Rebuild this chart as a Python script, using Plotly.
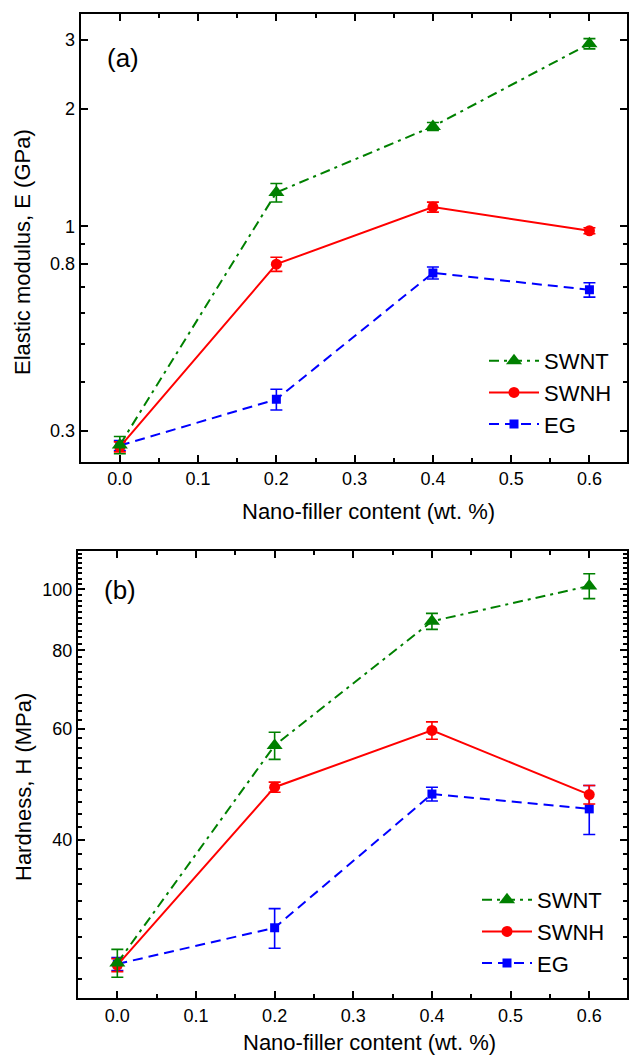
import plotly.graph_objects as go

# ---------------- data ----------------
x_content = [0.0, 0.2, 0.4, 0.6]

E_swnt = [0.276, 1.22, 1.80, 2.93]
E_swnt_err = [0.014, 0.066, 0.043, 0.088]
E_swnh = [0.273, 0.80, 1.12, 0.974]
E_swnh_err = [0.008, 0.033, 0.033, 0.017]
E_eg = [0.275, 0.361, 0.76, 0.688]
E_eg_err = [0.008, 0.022, 0.027, 0.029]

H_swnt = [25.5, 56.5, 89.0, 101.3]
H_swnt_err = [1.3, 2.8, 2.6, 4.6]
H_swnh = [25.3, 48.5, 59.7, 47.2]
H_swnh_err = [0.6, 0.9, 1.9, 1.6]
H_eg = [25.4, 29.0, 47.3, 44.8]
H_eg_err = [0.6, 2.1, 1.2, 4.0]

x_ticks = [0.0, 0.1, 0.2, 0.3, 0.4, 0.5, 0.6]
x_ticktext = ["0.0", "0.1", "0.2", "0.3", "0.4", "0.5", "0.6"]
E_ticks = [0.3, 0.8, 1, 2, 3]
E_ticktext = ["0.3", "0.8", "1", "2", "3"]
E_minor = [0.4, 0.5, 0.6, 0.7, 0.9]
H_ticks = [40, 60, 80, 100]
H_ticktext = ["40", "60", "80", "100"]
H_minor = [v for v in range(24, 116, 2) if v not in (40, 60, 80, 100)]

series_names = ["SWNT", "SWNH", "EG"]
colors = {"SWNT": "#008000", "SWNH": "#FF0000", "EG": "#0000FF"}
dashes = {"SWNT": "10px,5px,3px,5px", "SWNH": "solid", "EG": "10px,6px"}
symbols = {"SWNT": "triangle-up", "SWNH": "circle", "EG": "square"}
msizes = {"SWNT": 14, "SWNH": 11, "EG": 9}
ranks = {"SWNT": 1, "SWNH": 2, "EG": 3}

FONT = "Liberation Sans, Arial, sans-serif"
W, H = 630, 1056
ML, MR, MT, MB = 78, 3, 14, 58
PW = W - ML - MR
PH = H - MT - MB


def px_x(px):
    return (px - ML) / PW


def px_y(py):
    return (H - MB - py) / PH


fig = go.Figure()

top_data = {"SWNT": (E_swnt, E_swnt_err), "SWNH": (E_swnh, E_swnh_err), "EG": (E_eg, E_eg_err)}
bot_data = {"SWNT": (H_swnt, H_swnt_err), "SWNH": (H_swnh, H_swnh_err), "EG": (H_eg, H_eg_err)}

for panel, data, xa, ya, leg in [("a", top_data, "x", "y", "legend"),
                                 ("b", bot_data, "x2", "y2", "legend2")]:
    for name in ["EG", "SWNH", "SWNT"]:
        vals, errs = data[name]
        c = colors[name]
        fig.add_trace(go.Scatter(
            x=x_content, y=vals, name=name, mode="lines+markers",
            line=dict(color=c, width=2, dash=dashes[name]),
            marker=dict(symbol=symbols[name], size=msizes[name], color=c),
            error_y=dict(type="data", array=errs, visible=True, color=c,
                         thickness=1.6, width=6),
            xaxis=xa, yaxis=ya, legend=leg, legendrank=ranks[name],
        ))

axis_common = dict(
    showline=True, linecolor="black", linewidth=2, mirror="ticks",
    ticks="inside", ticklen=7, tickwidth=1.5, tickcolor="black",
    showgrid=False, zeroline=False, automargin=False,
    tickfont=dict(family=FONT, size=18, color="black"),
)

top_dom = [px_y(461.7), 1.0]
bot_dom = [0.0, px_y(550.7)]

fig.update_layout(
    template="none",
    width=W, height=H,
    margin=dict(l=ML, r=MR, t=MT, b=MB, autoexpand=False),
    paper_bgcolor="white", plot_bgcolor="white",
    font=dict(family=FONT, color="black"),
    xaxis=dict(domain=[px_x(80.7), 1.0], range=[-0.05, 0.648], anchor="y",
               tickmode="array", tickvals=x_ticks, ticktext=x_ticktext,
               minor=dict(dtick=0.05, tick0=0, ticks="inside", ticklen=4,
                          tickwidth=1.5, tickcolor="black"),
               **axis_common),
    yaxis=dict(domain=top_dom, type="log", range=[-0.602, 0.5428], anchor="x",
               tickmode="array", tickvals=E_ticks, ticktext=E_ticktext,
               minor=dict(tickmode="array", tickvals=E_minor, ticks="inside",
                          ticklen=4, tickwidth=1.5, tickcolor="black"),
               **axis_common),
    xaxis2=dict(domain=[0.0, 1.0], range=[-0.05, 0.648], anchor="y2",
                tickmode="array", tickvals=x_ticks, ticktext=x_ticktext,
                minor=dict(dtick=0.05, tick0=0, ticks="inside", ticklen=4,
                           tickwidth=1.5, tickcolor="black"),
                **axis_common),
    yaxis2=dict(domain=bot_dom, type="log", range=[1.3508, 2.0615], anchor="x2",
                tickmode="array", tickvals=H_ticks, ticktext=H_ticktext,
                minor=dict(tickmode="array", tickvals=H_minor, ticks="inside",
                           ticklen=4, tickwidth=1.5, tickcolor="black"),
                **axis_common),
    legend=dict(x=px_x(484), y=px_y(340), xanchor="left", yanchor="top",
                bgcolor="rgba(0,0,0,0)", borderwidth=0,
                font=dict(family=FONT, size=22, color="black"),
                tracegroupgap=0, itemwidth=50),
    legend2=dict(x=px_x(477), y=px_y(879), xanchor="left", yanchor="top",
                 bgcolor="rgba(0,0,0,0)", borderwidth=0,
                 font=dict(family=FONT, size=22, color="black"),
                 tracegroupgap=0, itemwidth=50),
    showlegend=True,
)

annots = [
    dict(text="Elastic modulus, E (GPa)", x=px_x(23), y=px_y(252), textangle=-90, size=22),
    dict(text="Nano-filler content (wt. %)", x=px_x(368), y=px_y(511), textangle=0, size=22),
    dict(text="Hardness, H (MPa)", x=px_x(23), y=px_y(787), textangle=-90, size=22),
    dict(text="Nano-filler content (wt. %)", x=px_x(369), y=px_y(1042), textangle=0, size=22),
    dict(text="(a)", x=px_x(123), y=px_y(58), textangle=0, size=26),
    dict(text="(b)", x=px_x(120), y=px_y(590), textangle=0, size=26),
]
for a in annots:
    fig.add_annotation(text=a["text"], x=a["x"], y=a["y"], xref="paper", yref="paper",
                       xanchor="center", yanchor="middle", showarrow=False,
                       textangle=a["textangle"],
                       font=dict(family=FONT, size=a["size"], color="black"))

fig.write_html("out.html",
               config={"displayModeBar": False},
               post_script="document.body.style.margin='0px';"
                           "document.body.style.overflow='hidden';")
